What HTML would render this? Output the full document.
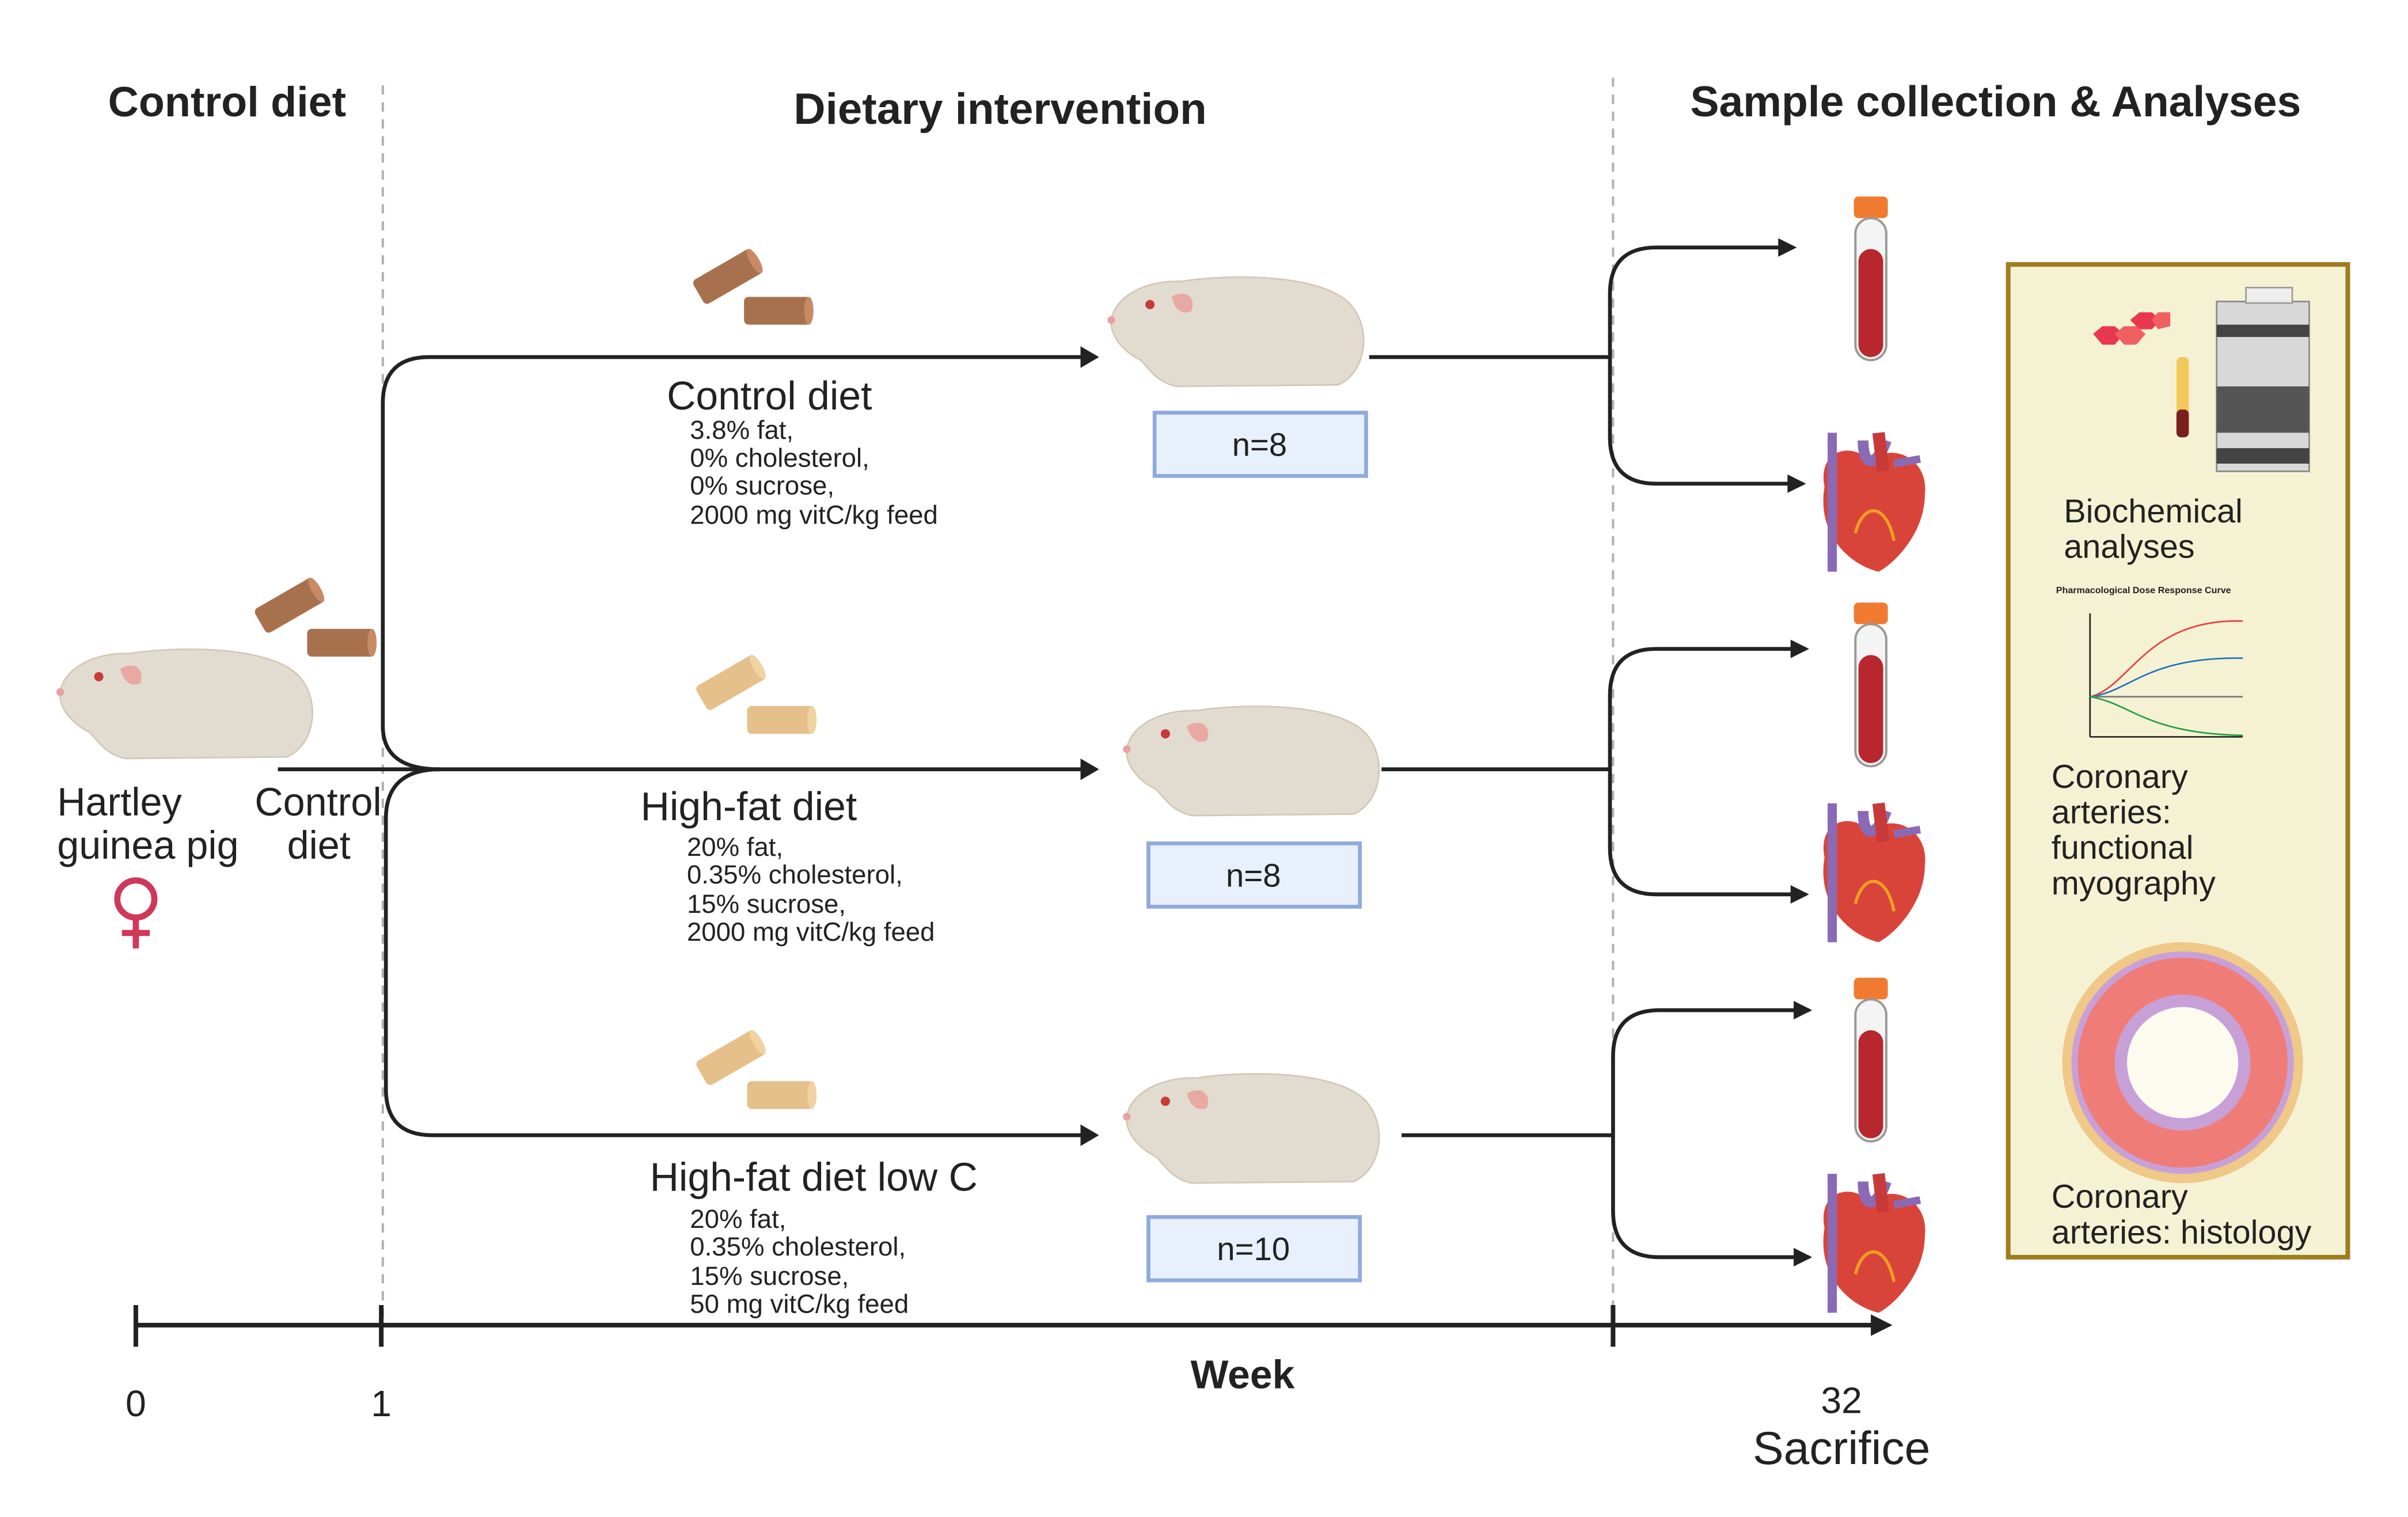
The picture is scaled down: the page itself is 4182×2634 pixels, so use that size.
<!DOCTYPE html>
<html><head><meta charset="utf-8"><style>
html,body{margin:0;padding:0;background:#fff}
svg{display:block}
text{font-family:"Liberation Sans",sans-serif;fill:#222}
</style></head><body>
<svg width="4182" height="2634" viewBox="0 0 1560 982" xmlns="http://www.w3.org/2000/svg">
<defs>
<g id="gp">
<path d="M3,30 C5,15 25,4 48,5 C80,0 140,0 158,20 C172,36 168,64 150,72 L45,73 C32,70 28,62 22,56 C10,50 2,40 3,30 z" fill="#e2dbd0" stroke="#d3c7b5" stroke-width="1"/>
<path d="M42,15 C50,10 58,14 55,24 C50,27 44,24 42,15 z" fill="#e8a9a3"/>
<circle cx="28" cy="20" r="3" fill="#c83a3a"/>
<circle cx="3" cy="30" r="2.5" fill="#e8a0a0"/>
</g>
<g id="tube">
<rect x="-11" y="0" width="22" height="14" rx="3" fill="#f07a30"/>
<rect x="-10" y="14" width="20" height="92" rx="10" fill="#f4f4f4" stroke="#9a9a9a" stroke-width="1.5"/>
<rect x="-8" y="34" width="16" height="70" rx="8" fill="#b8262e"/>
</g>
<g id="heart">
<path d="M-30,-10 C-35,-35 -10,-40 0,-25 C10,-40 38,-30 35,-5 C35,20 15,40 5,45 C-15,40 -35,20 -30,-10 z" fill="#d9443a"/>
<path d="M-10,20 C-5,0 10,0 15,25" stroke="#f0a020" stroke-width="2" fill="none"/>
<path d="M-25,-45 L-25,45" stroke="#8a6ab5" stroke-width="6"/>
<path d="M-5,-40 C-5,-20 5,-25 10,-40" stroke="#8a6ab5" stroke-width="7" fill="none"/>
<path d="M5,-45 L8,-20" stroke="#c83a3a" stroke-width="8"/>
<path d="M15,-25 L32,-28" stroke="#8a6ab5" stroke-width="5"/>
</g>
<g id="pelletB"><rect x="0" y="0" width="44" height="18" rx="3" fill="#a8714e"/><ellipse cx="42" cy="9" rx="3" ry="9" fill="#c88a64"/></g>
<g id="pelletY"><rect x="0" y="0" width="44" height="18" rx="3" fill="#e6c08a"/><ellipse cx="42" cy="9" rx="3" ry="9" fill="#f0d3a0"/></g>
</defs>

<!-- titles -->
<text x="70" y="75" font-size="27.5" font-weight="bold">Control diet</text>
<text x="648" y="80" font-size="28.5" font-weight="bold" text-anchor="middle">Dietary intervention</text>
<text x="1095" y="75" font-size="28" font-weight="bold">Sample collection &amp; Analyses</text>

<line x1="248" y1="55" x2="248" y2="860" stroke="#b0b0b0" stroke-width="1.5" stroke-dasharray="6,5"/>
<line x1="1045" y1="50" x2="1045" y2="860" stroke="#b0b0b0" stroke-width="1.5" stroke-dasharray="6,5"/>

<!-- left -->
<use href="#gp" x="36" y="418"/>
<g transform="translate(164,395) rotate(-30)"><use href="#pelletB"/></g>
<use href="#pelletB" x="199" y="407"/>
<text x="37" y="528" font-size="25.5">Hartley</text>
<text x="37" y="556" font-size="25.5">guinea pig</text>
<text x="165" y="528" font-size="25.5">Control</text>
<text x="186" y="556" font-size="25.5">diet</text>
<g stroke="#d0385a" stroke-width="4" fill="none"><circle cx="88" cy="582" r="12"/><line x1="88" y1="594" x2="88" y2="614"/><line x1="79" y1="604" x2="97" y2="604"/></g>

<!-- branches -->
<g stroke="#222" stroke-width="2.5" fill="none">
<line x1="180" y1="498" x2="710" y2="498"/>
<path d="M710,231 L278,231 Q248,231 248,261 L248,470 Q248,498 285,498"/>
<path d="M285,498 Q250,498 250,530 L250,705 Q250,735 280,735 L710,735"/>
<path d="M887,231 L1043,231"/>
<path d="M1162,160 L1073,160 Q1043,160 1043,190 L1043,283 Q1043,313 1073,313 L1168,313"/>
<path d="M895,498 L1043,498"/>
<path d="M1170,420 L1073,420 Q1043,420 1043,450 L1043,549 Q1043,579 1073,579 L1170,579"/>
<path d="M908,735 L1045,735"/>
<path d="M1172,654 L1075,654 Q1045,654 1045,684 L1045,784 Q1045,814 1075,814 L1172,814"/>
</g>
<g fill="#222">
<path d="M700,224 L712,231 L700,238z"/><path d="M700,491 L712,498 L700,505z"/><path d="M700,728 L712,735 L700,742z"/>
<path d="M1152,154 L1164,160 L1152,166z"/><path d="M1158,307 L1170,313 L1158,319z"/>
<path d="M1160,414 L1172,420 L1160,426z"/><path d="M1160,573 L1172,579 L1160,585z"/>
<path d="M1162,648 L1174,654 L1162,660z"/><path d="M1162,808 L1174,814 L1162,820z"/>
</g>

<!-- pellets -->
<g transform="translate(448,182) rotate(-30)"><use href="#pelletB"/></g>
<use href="#pelletB" x="482" y="192"/>
<g transform="translate(450,445) rotate(-30)"><use href="#pelletY"/></g>
<use href="#pelletY" x="484" y="457"/>
<g transform="translate(450,688) rotate(-30)"><use href="#pelletY"/></g>
<use href="#pelletY" x="484" y="700"/>

<!-- guinea pigs -->
<use href="#gp" x="717" y="177"/>
<use href="#gp" x="727" y="455"/>
<use href="#gp" x="727" y="693"/>

<!-- diet labels -->
<text x="432" y="265" font-size="26">Control diet</text>
<g font-size="17"><text x="447" y="284">3.8% fat,</text><text x="447" y="302">0% cholesterol,</text><text x="447" y="320">0% sucrose,</text><text x="447" y="339">2000 mg vitC/kg feed</text></g>
<text x="415" y="531" font-size="26">High-fat diet</text>
<g font-size="17"><text x="445" y="554">20% fat,</text><text x="445" y="572">0.35% cholesterol,</text><text x="445" y="591">15% sucrose,</text><text x="445" y="609">2000 mg vitC/kg feed</text></g>
<text x="421" y="771" font-size="26">High-fat diet low C</text>
<g font-size="17"><text x="447" y="795">20% fat,</text><text x="447" y="813">0.35% cholesterol,</text><text x="447" y="832">15% sucrose,</text><text x="447" y="850">50 mg vitC/kg feed</text></g>

<!-- n boxes -->
<g fill="#e8f0fb" stroke="#8faadc" stroke-width="2.5">
<rect x="748" y="267" width="137" height="41"/><rect x="744" y="546" width="137" height="41"/><rect x="744" y="788" width="137" height="41"/></g>
<g font-size="21" text-anchor="middle"><text x="816" y="295">n=8</text><text x="812" y="574">n=8</text><text x="812" y="816">n=10</text></g>

<!-- tubes & hearts -->
<use href="#tube" x="1212" y="127"/><use href="#tube" x="1212" y="390"/><use href="#tube" x="1212" y="633"/>
<use href="#heart" x="1212" y="325"/><use href="#heart" x="1212" y="565"/><use href="#heart" x="1212" y="805"/>

<!-- timeline -->
<g stroke="#222" stroke-width="3"><line x1="88" y1="858" x2="1215" y2="858"/>
<line x1="88" y1="845" x2="88" y2="872"/><line x1="247" y1="845" x2="247" y2="872"/><line x1="1045" y1="845" x2="1045" y2="872"/></g>
<path d="M1212,851 L1226,858 L1212,865z" fill="#222"/>
<g font-size="24" text-anchor="middle"><text x="88" y="917">0</text><text x="247" y="917">1</text><text x="1193" y="915">32</text><text x="1193" y="948" font-size="30">Sacrifice</text></g>
<text x="805" y="899" font-size="26" font-weight="bold" text-anchor="middle">Week</text>

<!-- right panel -->
<rect x="1301" y="171" width="220" height="643" fill="#f5f2d4" stroke="#a07c1c" stroke-width="3"/>
<g fill="#e8384f"><polygon points="1356,216 1362,211 1370,211 1376,216 1370,223 1362,223"/><polygon points="1380,207 1386,202 1394,202 1400,207 1394,213 1386,213"/></g>
<g fill="#f06060"><polygon points="1370,216 1376,211 1384,211 1390,216 1384,223 1376,223"/><polygon points="1394,207 1398,202 1406,202 1406,211 1398,213"/></g>
<rect x="1410" y="231" width="8" height="52" rx="3" fill="#f2c85a"/><rect x="1410" y="265" width="8" height="18" rx="3" fill="#7a1e1e"/>
<rect x="1436" y="195" width="60" height="110" fill="#d8d8d8" stroke="#888"/>
<rect x="1436" y="210" width="60" height="8" fill="#444"/><rect x="1436" y="250" width="60" height="30" fill="#555"/><rect x="1436" y="290" width="60" height="10" fill="#444"/>
<rect x="1455" y="186" width="30" height="10" fill="#eee" stroke="#999"/>
<text x="1337" y="338" font-size="21.5">Biochemical</text><text x="1337" y="361" font-size="21.5">analyses</text>
<text x="1332" y="384" font-size="6" font-weight="bold">Pharmacological Dose Response Curve</text>
<g stroke-width="1" fill="none"><line x1="1354" y1="397" x2="1354" y2="477" stroke="#222"/>
<line x1="1354" y1="477" x2="1453" y2="477" stroke="#222"/>
<path d="M1354,451 C1380,445 1390,400 1453,402" stroke="#e84040"/>
<path d="M1354,451 C1380,448 1390,425 1453,426" stroke="#2070c0"/>
<line x1="1354" y1="451" x2="1453" y2="451" stroke="#777"/>
<path d="M1354,451 C1380,455 1390,475 1453,476" stroke="#20a040"/></g>
<g font-size="21.5"><text x="1329" y="510">Coronary</text><text x="1329" y="533">arteries:</text><text x="1329" y="556">functional</text><text x="1329" y="579">myography</text></g>
<circle cx="1414" cy="688" r="78" fill="#f0c888"/>
<circle cx="1414" cy="688" r="72" fill="#c8a0d8"/>
<circle cx="1414" cy="688" r="68" fill="#f07c78"/>
<circle cx="1414" cy="688" r="44" fill="#c8a0d8"/>
<circle cx="1414" cy="688" r="36" fill="#fdfbee"/>
<g font-size="21.5"><text x="1329" y="782">Coronary</text><text x="1329" y="805">arteries: histology</text></g>
</svg>
</body></html>
